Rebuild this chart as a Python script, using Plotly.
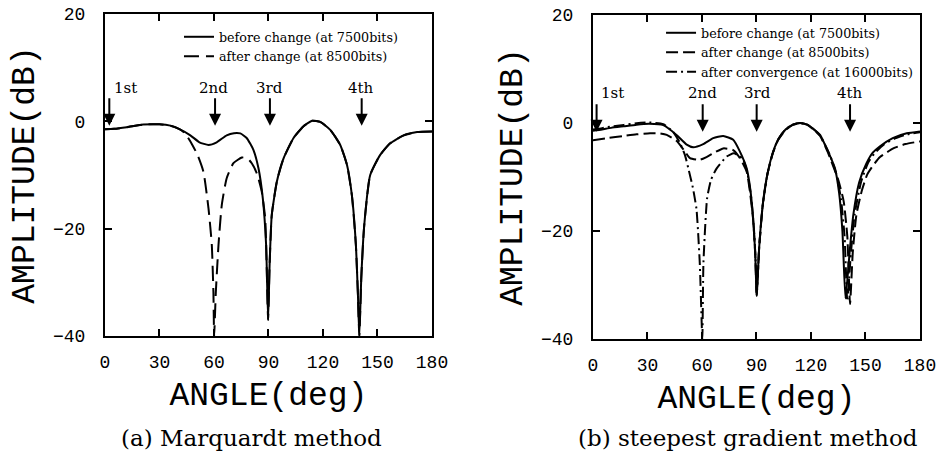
import plotly.graph_objects as go

# ---------------- data ----------------
# (a) Marquardt method
ang_a_before = [0, 5, 12, 21, 30, 36, 41, 47, 52, 57, 61.5, 67, 71, 74.5, 78, 81.7, 84.5, 86.9, 88.7, 89.8,
                90.6, 91.8, 94.6, 98.3, 103.8, 109.3, 114, 118.5, 124, 129.5, 133.2, 135.9, 138.1, 139.2,
                140, 141.1, 142.7, 146, 151.5, 157, 164.4, 171.8, 180]
amp_a_before = [-1.45, -1.4, -1.1, -0.6, -0.55, -0.8, -1.45, -2.6, -3.9, -4.4, -3.9, -2.6, -2.2, -2.25, -3.1,
                -5.3, -8.75, -14.4, -23, -37, -27, -17.5, -11.25, -6.9, -3.1, -0.9, 0.1, -0.1, -1.6, -4.4,
                -8.1, -13.75, -23, -32, -40, -29, -19.4, -10, -6.25, -4.1, -2.6, -2.0, -1.9]

ang_a_after = [0, 5, 12, 21, 30, 36, 41, 44, 47.8, 51, 54.2, 57, 58.8, 59.7, 60.1, 61, 62.5, 64.3, 67, 70.7,
               75.3, 78, 80.8, 83.6, 86.3, 88.2, 89.8, 90.6, 91.8, 94.6, 98.3, 103.8, 109.3, 114, 118.5,
               124, 129.5, 133.2, 135.9, 138.1, 139.2, 140, 141.1, 142.7, 146, 151.5, 157, 164.4, 171.8, 180]
amp_a_after = [-1.45, -1.4, -1.1, -0.6, -0.55, -0.8, -1.45, -2.2, -4.2, -6.3, -9.4, -16.25, -23, -32, -40,
               -32, -23, -15.6, -10.6, -7.8, -6.75, -6.75, -7.8, -9.7, -13.1, -18.1, -37, -27, -17.5,
               -11.25, -6.9, -3.1, -0.9, 0.1, -0.1, -1.6, -4.4, -8.1, -13.75, -23, -32, -40, -29, -19.4,
               -10, -6.25, -4.1, -2.6, -2.0, -1.9]

# (b) steepest gradient method
ang_b_before = [0, 5, 10, 17, 24, 31, 38.7, 46, 51.6, 55.2, 60.7, 66.2, 71.7, 77.2, 80.9, 84.6, 86.5, 88,
                89.3, 90.1, 91.5, 93.5, 96, 99, 102, 106, 110, 114, 118, 121, 125, 128.6, 131, 133.2,
                135.5, 137.3, 139, 141.5, 143.3, 146.5, 150.5, 154, 158, 165, 172.7, 180]
amp_b_before = [-1.45, -1.2, -0.9, -0.6, -0.3, -0.15, -0.4, -2.2, -4.0, -4.5, -3.9, -2.8, -2.4, -3.1, -5.3,
                -8.4, -12, -17, -24, -32, -23, -15, -9.5, -5.5, -3.0, -1.2, -0.3, 0, -0.3, -1.0, -2.2,
                -4.7, -6.5, -8.4, -13, -20, -32.5, -23, -17, -11, -7.5, -5.5, -4.3, -2.8, -1.9, -1.55]

ang_b_after = [0, 8, 16.7, 24, 31.4, 36, 40.6, 46, 50, 53.4, 58.9, 62.5, 66.2, 71.7, 77.2, 80.9, 84.6, 86.5,
               88.2, 89.4, 90.1, 91.5, 93.5, 96, 99, 102, 106, 110, 114, 118, 121, 125, 129, 132, 135, 138,
               140, 141.5, 143, 145, 148, 151, 154.3, 158, 165.3, 172, 180]
amp_b_after = [-3.2, -2.8, -2.4, -2.1, -1.9, -1.9, -2.2, -3.3, -5.0, -6.5, -6.8, -6.3, -5.6, -4.7, -5.0,
               -6.5, -9.0, -13, -18, -25, -32, -23, -15, -9.5, -5.6, -3.1, -1.3, -0.35, 0, -0.35, -1.1,
               -2.4, -5.2, -7.8, -10.5, -14.5, -21, -33.5, -24, -17, -12.5, -9.5, -7.8, -6.3, -4.7, -3.9,
               -3.4]

ang_b_conv = [0, 5, 10, 17, 24, 31, 38.7, 44, 47.9, 50.6, 52.5, 55, 57, 58.8, 60.2, 60.8, 62.8, 65, 68.1,
              73.6, 77.5, 80, 82.7, 85, 87, 88.6, 89.6, 90.1, 91.5, 93.5, 96, 99, 102, 106, 110, 114, 118,
              121, 125, 130.5, 134, 136.5, 138.5, 140, 142, 144, 147.5, 151.5, 155, 160, 166, 173, 180]
amp_b_conv = [-1.2, -0.95, -0.65, -0.35, -0.05, 0.1, -0.2, -1.6, -3.7, -5.9, -8.4, -12, -16, -26, -40, -26,
              -14, -10.5, -8.4, -6.2, -5.6, -6.0, -6.8, -9.3, -13.5, -19.5, -26, -32, -23, -15, -9.5,
              -5.5, -3.0, -1.2, -0.3, 0, -0.3, -1.0, -2.3, -6.0, -9.5, -14, -21, -33, -24, -17, -11,
              -7.3, -5.6, -4.0, -2.9, -2.1, -1.7]

x_ticks = [0, 30, 60, 90, 120, 150, 180]
y_ticks = [-40, -20, 0, 20]

names = ["before change (at 7500bits)", "after change (at 8500bits)", "after convergence (at 16000bits)"]

# arrow markers (angle of arrow, label, label angle)
marks = ["1st", "2nd", "3rd", "4th"]
mark_ang_a = [2.4, 60.6, 90.8, 141.3]
mark_lbl_a = [11.4, 60.0, 90.5, 140.8]
mark_ang_b = [2.0, 60.4, 90.1, 141.5]
mark_lbl_b = [10.8, 60.4, 90.4, 141.5]

captions = ["(a) Marquardt method", "(b) steepest gradient method"]

# ---------------- figure ----------------
W, H = 943, 455
fig = go.Figure()

def add(x, y, name, dash, xa, ya, leg):
    fig.add_trace(go.Scatter(
        x=x, y=y, name=name, mode="lines", xaxis=xa, yaxis=ya, legend=leg,
        line=dict(color="black", width=2, dash=dash, shape="spline", smoothing=0.5),
    ))

add(ang_a_before, amp_a_before, names[0], "solid", "x", "y", "legend")
add(ang_a_after, amp_a_after, names[1], "15px,7px", "x", "y", "legend")
add(ang_b_before, amp_b_before, names[0], "solid", "x2", "y2", "legend2")
add(ang_b_after, amp_b_after, names[1], "12px,5px", "x2", "y2", "legend2")
add(ang_b_conv, amp_b_conv, names[2], "11px,4px,2px,4px", "x2", "y2", "legend2")

tickfont = dict(family="Liberation Mono", size=18, color="black")
titlefont = dict(family="Liberation Mono", size=33, color="black")

def xax(domain, anchor):
    return dict(domain=domain, anchor=anchor, range=[0, 180], tickvals=x_ticks, automargin=False,
                ticks="inside", ticklen=7, tickwidth=1.5, tickcolor="black",
                showline=True, linecolor="black", linewidth=2, mirror="ticks",
                showgrid=False, zeroline=False, tickfont=tickfont, ticklabelstandoff=8,
                ticklabeloverflow="allow",
                title=dict(text="ANGLE(deg)", font=titlefont, standoff=10))

def yax(domain, anchor):
    return dict(domain=domain, anchor=anchor, range=[-40, 20], tickvals=y_ticks, automargin=False,
                ticks="inside", ticklen=7, tickwidth=1.5, tickcolor="black",
                showline=True, linecolor="black", linewidth=2, mirror="ticks",
                showgrid=False, zeroline=False, tickfont=tickfont, ticklabelstandoff=14,
                ticklabeloverflow="allow",
                title=dict(text="AMPLITUDE(dB)", font=titlefont, standoff=8))

annotations = []
for i, m in enumerate(marks):
    annotations.append(dict(x=mark_ang_a[i], y=-0.8, xref="x", yref="y", text="", showarrow=True,
                            ax=0, ay=-29, arrowhead=2, arrowsize=1.2, arrowwidth=2, arrowcolor="black"))
    annotations.append(dict(x=mark_lbl_a[i], y=6.3, xref="x", yref="y", text=m, showarrow=False,
                            font=dict(family="DejaVu Serif", size=15, color="black")))
    annotations.append(dict(x=mark_ang_b[i], y=-1.6, xref="x2", yref="y2", text="", showarrow=True,
                            ax=0, ay=-29, arrowhead=2, arrowsize=1.2, arrowwidth=2, arrowcolor="black"))
    annotations.append(dict(x=mark_lbl_b[i], y=5.5, xref="x2", yref="y2", text=m, showarrow=False,
                            font=dict(family="DejaVu Serif", size=15, color="black")))

annotations.append(dict(x=0.2672, y=0.0374, xref="paper", yref="paper", text=captions[0], showarrow=False,
                        xanchor="center", yanchor="middle",
                        font=dict(family="DejaVu Serif", size=23, color="black")))
annotations.append(dict(x=0.7937, y=0.0374, xref="paper", yref="paper", text=captions[1], showarrow=False,
                        xanchor="center", yanchor="middle",
                        font=dict(family="DejaVu Serif", size=23, color="black")))

legfont = dict(family="DejaVu Serif", size=12.7, color="black")
fig.update_layout(
    template="none",
    width=W, height=H,
    margin=dict(l=0, r=0, t=0, b=0, autoexpand=False),
    paper_bgcolor="white", plot_bgcolor="white",
    xaxis=xax([0.1113, 0.4581], "y"),
    yaxis=yax([0.2615, 0.9692], "x"),
    xaxis2=xax([0.6288, 0.9756], "y2"),
    yaxis2=yax([0.2549, 0.9670], "x2"),
    legend=dict(x=0.1898, y=0.9516, xanchor="left", yanchor="top", font=legfont,
                bgcolor="rgba(0,0,0,0)", borderwidth=0, tracegroupgap=0),
    legend2=dict(x=0.7010, y=0.9604, xanchor="left", yanchor="top", font=legfont,
                 bgcolor="rgba(0,0,0,0)", borderwidth=0, tracegroupgap=0),
    annotations=annotations,
    showlegend=True,
)

# remove the browser's default 8px body margin so the figure fills the window exactly
fig.write_html("out.html", config={"displayModeBar": False},
               post_script="document.body.style.margin='0';")
